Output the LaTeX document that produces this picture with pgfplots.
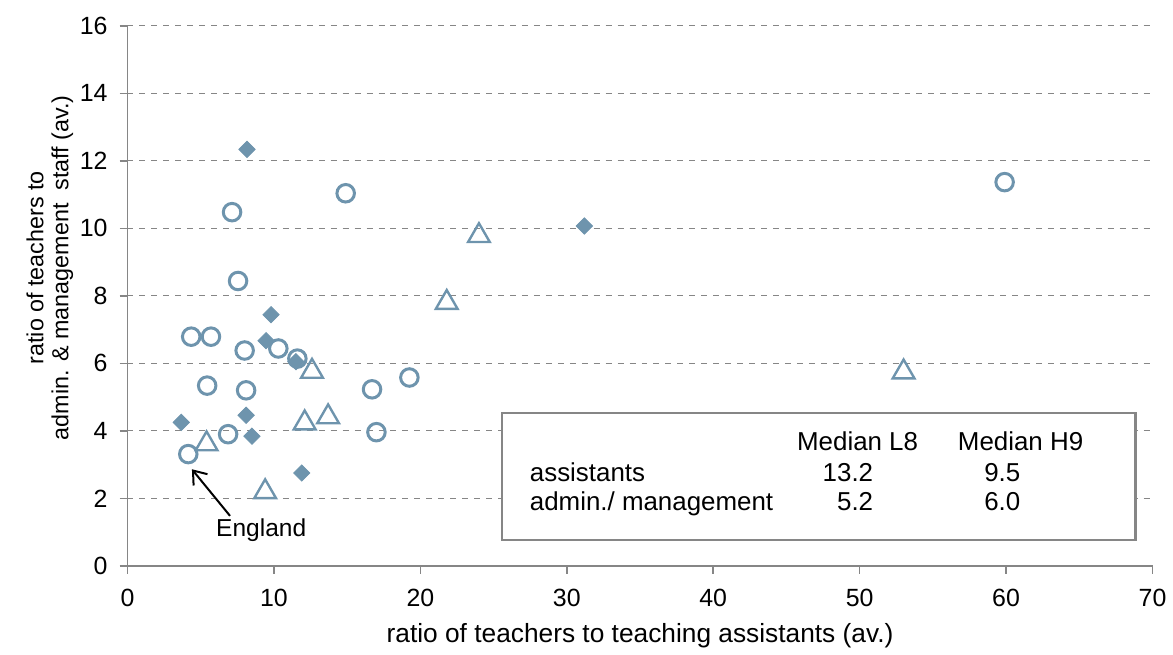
\documentclass[border=0pt]{standalone}
\usepackage{pgfplots}
\pgfplotsset{compat=1.18}
\usetikzlibrary{arrows.meta}
\usepackage{fontspec}
\setmainfont{Liberation Sans}
\definecolor{mk}{RGB}{110,148,173}
\definecolor{ax}{RGB}{134,134,134}
\begin{document}
\begin{tikzpicture}
\begin{axis}[
  scale only axis,
  width=514.5pt, height=271pt,
  xmin=0, xmax=70, ymin=0, ymax=16,
  xtick={0,10,...,70}, ytick={0,2,...,16},
  axis x line*=bottom, axis y line*=left,
  axis line style={ax, line width=0.8pt},
  tick style={ax, line width=0.8pt},
  tick align=outside, major tick length=4pt,
  ymajorgrids, grid style={ax, dashed, line width=0.6pt},
  /pgf/number format/assume math mode=true,
  ticklabel style={font=\fontsize{12.5pt}{14pt}\selectfont},
  xticklabel style={yshift=-4pt},
  yticklabel style={xshift=-2.5pt},
  xlabel={ratio of teachers to teaching assistants (av.)},
  ylabel={\shortstack{ratio of teachers to\\[1pt]admin. \& management\ \ staff (av.)}},
  xlabel style={font=\fontsize{13.2pt}{15pt}\selectfont, at={(axis description cs:0.5,0)}, anchor=base, yshift=-38.5pt},
  ylabel style={font=\fontsize{11.7pt}{13.5pt}\selectfont, at={(axis description cs:-0.0758,0.552)}, anchor=center},
  clip=false,
]
% filled diamonds
\addplot[only marks, mark=square*, mark size=2.9pt, mark options={rotate=45, fill=mk, draw=mk}] coordinates {
(8.16,12.34) (31.2,10.07) (9.8,7.44) (9.46,6.67) (11.5,6.05)
(3.67,4.25) (8.1,4.46) (8.5,3.84) (11.9,2.75)
};
% open circles
\addplot[only marks, mark=o, mark size=4.4pt, mark options={draw=mk, line width=1.5pt}] coordinates {
(7.14,10.48) (14.9,11.04) (7.55,8.44) (59.9,11.37)
(4.35,6.79) (5.7,6.79) (8.0,6.38) (10.3,6.44) (11.6,6.14)
(5.44,5.34) (8.1,5.2) (16.7,5.23) (19.25,5.58) (17.0,3.96)
(6.87,3.9) (4.15,3.31)
};
% open triangles
\addplot[only marks, mark=triangle, mark size=6.3pt, mark options={draw=mk, line width=1.2pt}] coordinates {
(24.0,9.78) (21.8,7.80) (12.6,5.76) (53.0,5.74) (12.1,4.23)
(13.7,4.41) (5.4,3.61) (9.4,2.19)
};
% England annotation
\draw[-{Straight Barb[length=6pt,width=9pt]}, line width=1pt] (axis cs:7.0,1.48) -- (axis cs:4.4,2.86);
\node[anchor=base, font=\fontsize{12.3pt}{14pt}\selectfont] at (axis cs:9.13,0.86) {England};
% box
\draw[ax, line width=1.1pt, fill=white] (axis cs:25.58,0.77) rectangle (axis cs:68.84,4.52);
\node[anchor=base west, font=\fontsize{13pt}{15pt}\selectfont] at (axis cs:27.0,2.51) {assistants};
\node[anchor=base west, font=\fontsize{13pt}{15pt}\selectfont] at (axis cs:27.0,1.65) {admin./ management};
\node[anchor=base, font=\fontsize{13pt}{15pt}\selectfont] at (axis cs:49.86,3.42) {Median L8};
\node[anchor=base, font=\fontsize{13pt}{15pt}\selectfont] at (axis cs:60.99,3.42) {Median H9};
\node[anchor=base east, font=\fontsize{13pt}{15pt}\selectfont] at (axis cs:51.4,2.51) {13.2};
\node[anchor=base east, font=\fontsize{13pt}{15pt}\selectfont] at (axis cs:51.4,1.65) {5.2};
\node[anchor=base east, font=\fontsize{13pt}{15pt}\selectfont] at (axis cs:61.45,2.51) {9.5};
\node[anchor=base east, font=\fontsize{13pt}{15pt}\selectfont] at (axis cs:61.45,1.65) {6.0};
\end{axis}
\path[use as bounding box] (-64pt,-41.5pt) rectangle (522.5pt,284pt);
\end{tikzpicture}
\end{document}
